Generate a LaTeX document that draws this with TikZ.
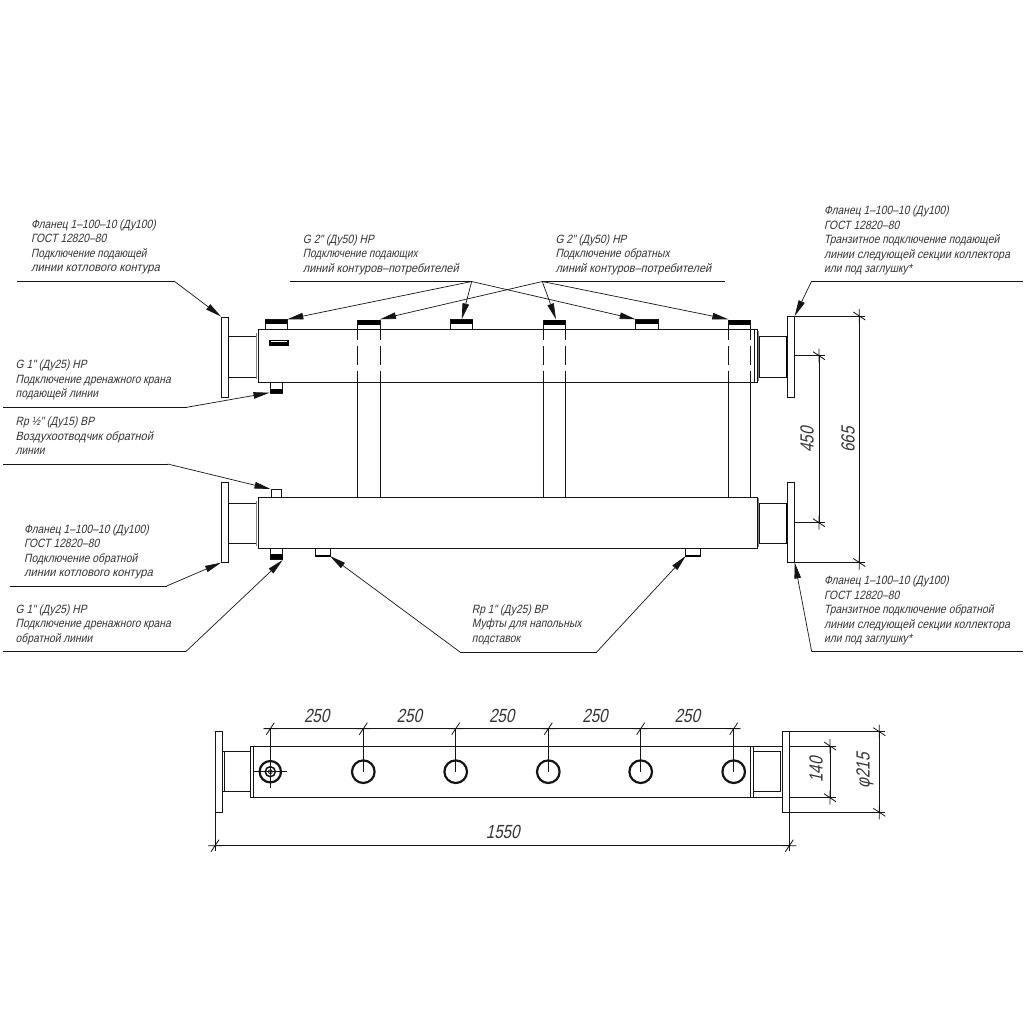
\documentclass[tikz,border=0pt]{standalone}
\usepackage{graphicx}
\usepackage{fontspec}
\usetikzlibrary{arrows.meta}
\newfontfamily\cad[FakeSlant=0.22,FakeStretch=0.86]{Liberation Sans}
\newfontfamily\caddim[FakeSlant=0.22,FakeStretch=0.8]{Liberation Sans}
\definecolor{ink}{gray}{0.08}
\definecolor{txt}{gray}{0.2}
\newcommand{\widen}[2]{\scalebox{#1}[1]{#2}}
\tikzset{
  part/.style={draw=ink,line width=1pt,line join=miter},
  thickpart/.style={draw=black,line width=1.8pt},
  band/.style={draw=gray,line width=1.3pt},
  hidden/.style={draw=ink,line width=1pt,dash pattern=on 19pt off 6pt,dash phase=9pt},
  shelf/.style={draw=ink,line width=0.85pt},
  leader/.style={draw=ink,line width=0.7pt,-{Triangle[length=16pt,width=6.5pt]}},
  dimline/.style={draw=ink,line width=0.8pt},
  note/.style={anchor=north west,inner sep=0pt,align=left,text=txt,
    font=\cad\fontsize{12}{14.5}\selectfont,execute at begin node={\rule{0pt}{10pt}}},
  dimtext/.style={inner sep=0pt,text=txt,font=\caddim\fontsize{19}{20}\selectfont}
}
\newcommand{\tickH}[2]{\draw[dimline] (#1-4,#2+6) -- (#1+4,#2-6) (#1-7,#2) -- (#1+7,#2);}
\newcommand{\tickV}[2]{\draw[dimline] (#1-6,#2-4) -- (#1+6,#2+4) (#1,#2-7) -- (#1,#2+7);}
\begin{document}
\begin{tikzpicture}[x=1pt,y=-1pt]
\useasboundingbox (0,0) rectangle (1024,1024);
%% ---------- upper header
\draw[part] (221,317) rectangle (228.5,397);
\draw[part] (228.5,336) rectangle (256,377);
\draw[thickpart] (228.5,336) -- (228.5,377);
\draw[band] (256.5,333) -- (256.5,379);
\draw[part] (258,329.5) rectangle (757,382.5);
\draw[band] (758.3,331) -- (758.3,381);
\draw[part] (754.5,329.5) -- (754.5,382.5);
\draw[part] (759.5,336) rectangle (787,377);
\draw[thickpart] (787,336) -- (787,377);
\draw[part] (787.3,316) rectangle (794.7,397);
\draw[fill=black,draw=black,line width=0.4pt] (269.5,340) rectangle (288,345.5);
\draw[white,line width=0.4pt] (271,341.3) -- (286.5,341.3);
%% top sockets
\foreach \xa/\xb/\yb in {265/287.3/324,450.7/472.7/324,635.7/658.3/324}{
  \draw[part] (\xa,319.5) rectangle (\xb,329.5);
  \fill[black] (\xa,319.5) rectangle (\xb,\yb);
}
\foreach \xa/\xb in {357.3/380,543.3/565,728.3/750.7}{
  \fill[black] (\xa,319.5) rectangle (\xb,325);
  \draw[part] (\xa,319.5) -- (\xa,329.5) (\xb,319.5) -- (\xb,329.5);
  \draw[hidden] (\xa,329.5) -- (\xa,382.5);
  \draw[hidden] (\xb,329.5) -- (\xb,382.5);
  \draw[part] (\xa,382.5) -- (\xa,497) (\xb,382.5) -- (\xb,497);
}
%% bottom drain of the upper header
\draw[part] (270,382.5) rectangle (282.7,393.3);
\fill[black] (270,388.5) rectangle (282.7,393.3);
%% ---------- lower header
\draw[part] (221,482.7) rectangle (228.5,562.7);
\draw[part] (228.5,503) rectangle (256,543.5);
\draw[thickpart] (228.5,503) -- (228.5,543.5);
\draw[band] (256.5,501) -- (256.5,546);
\draw[part] (258,497) rectangle (757,548.3);
\draw[band] (758.3,498) -- (758.3,547);
\draw[part] (759.5,503) rectangle (787,543.5);
\draw[thickpart] (787,503) -- (787,543.5);
\draw[part] (787.3,482.5) rectangle (794.7,562.5);
\draw[part] (271,489.3) rectangle (281.7,497);
\draw[part] (270,548.3) rectangle (282.7,559.3);
\fill[black] (270,554.3) rectangle (282.7,559.3);
\draw[part] (315.3,548.3) rectangle (330,556);
\draw[part] (685.7,548.3) rectangle (700.7,556);
\draw[black,line width=1.3pt] (315.3,556) -- (330,556) (685.7,556) -- (700.7,556);
%% ---------- notes
\node[note] (n1) at (31,219.3) {Фланец 1–100–10 (Ду100)\\ГОСТ 12820–80\\\widen{.97}{Подключение подающей}\\\widen{1.08}{линии котлового контура}};
\node[note] (n2) at (15.5,360) {G 1" (Ду25) НР\\Подключение дренажного крана\\подающей линии};
\node[note] (n3) at (15.5,417) {Rp ½" (Ду15) ВР\\\widen{1.06}{Воздухоотводчик обратной}\\линии};
\node[note] (n4) at (24,524.3) {Фланец 1–100–10 (Ду100)\\ГОСТ 12820–80\\Подключение обратной\\\widen{1.08}{линии котлового контура}};
\node[note] (n5) at (15.5,604.3) {G 1" (Ду25) НР\\Подключение дренажного крана\\обратной линии};
\node[note] (n6) at (302.7,234.3) {G 2" (Ду50) НР\\\widen{.97}{Подключение подающих}\\\widen{1.06}{линий контуров–потребителей}};
\node[note] (n7) at (555.3,234.3) {G 2" (Ду50) НР\\Подключение обратных\\\widen{1.06}{линий контуров–потребителей}};
\node[note] (n8) at (824,206) {Фланец 1–100–10 (Ду100)\\ГОСТ 12820–80\\Транзитное подключение подающей\\\widen{1.03}{линии следующей секции коллектора}\\или под заглушку*};
\node[note] (n9) at (824,576) {Фланец 1–100–10 (Ду100)\\ГОСТ 12820–80\\Транзитное подключение обратной\\\widen{1.03}{линии следующей секции коллектора}\\или под заглушку*};
\node[note] (n10) at (471.7,604.3) {Rp 1" (Ду25) ВР\\Муфты для напольных\\подставок};
%% ---------- leaders
\coordinate (s1a) at (17,281); \coordinate (s1b) at (174,281); \coordinate (t1) at (221,316.5);
\coordinate (s2a) at (3,407.3); \coordinate (s2b) at (186.7,407.3); \coordinate (t2) at (269.5,392.7);
\coordinate (s3a) at (3,464); \coordinate (s3b) at (167.7,464); \coordinate (t3) at (270.5,489);
\coordinate (s4a) at (10,586); \coordinate (s4b) at (166.7,586); \coordinate (t4) at (221,562.7);
\coordinate (s5a) at (3,651.7); \coordinate (s5b) at (185.7,651.7); \coordinate (t5) at (282.7,560);
\coordinate (s6a) at (290,281.5); \coordinate (s6b) at (471.7,281.5);
\coordinate (s7a) at (725,281.5); \coordinate (s7b) at (542.3,281.5);
\coordinate (t6a) at (287.3,319.3); \coordinate (t6b) at (461.7,319.3); \coordinate (t6c) at (635.7,319.3);
\coordinate (t7a) at (380,319.3); \coordinate (t7b) at (556,319.3); \coordinate (t7c) at (728.3,319.3);
\coordinate (s8a) at (1022.7,281); \coordinate (s8b) at (811.7,281); \coordinate (t8) at (794.7,316);
\coordinate (s9a) at (1022.7,651.7); \coordinate (s9b) at (811.7,651.7); \coordinate (t9) at (794.7,562.5);
\coordinate (s10a) at (460,652); \coordinate (s10b) at (596.7,652); \coordinate (t10a) at (330,556); \coordinate (t10b) at (685.7,556);
\draw[shelf] (s1a) -- (s1b); \draw[leader] (s1b) -- (t1);
\draw[shelf] (s2a) -- (s2b); \draw[leader] (s2b) -- (t2);
\draw[shelf] (s3a) -- (s3b); \draw[leader] (s3b) -- (t3);
\draw[shelf] (s4a) -- (s4b); \draw[leader] (s4b) -- (t4);
\draw[shelf] (s5a) -- (s5b); \draw[leader] (s5b) -- (t5);
\draw[shelf] (s6a) -- (s6b); \draw[shelf] (s7a) -- (s7b);
\draw[leader] (s6b) -- (t6a); \draw[leader] (s6b) -- (t6b); \draw[leader] (s6b) -- (t6c);
\draw[leader] (s7b) -- (t7a); \draw[leader] (s7b) -- (t7b); \draw[leader] (s7b) -- (t7c);
\draw[shelf] (s8a) -- (s8b); \draw[leader] (s8b) -- (t8);
\draw[shelf] (s9a) -- (s9b); \draw[leader] (s9b) -- (t9);
\draw[shelf] (s10a) -- (s10b); \draw[leader] (s10a) -- (t10a); \draw[leader] (s10b) -- (t10b);
%% ---------- dimensions of the front view
\draw[dimline] (794.7,316) -- (865,316) (794.7,562.5) -- (865,562.5) (859.3,316) -- (859.3,562.5);
\tickV{859.3}{316} \tickV{859.3}{562.5}
\draw[dimline] (794.7,355.7) -- (825,355.7) (794.7,522.7) -- (825,522.7) (819,355.7) -- (819,522.7);
\tickV{819}{355.7} \tickV{819}{522.7}
\node[dimtext,rotate=90] (d450) at (807,440) {450};
\node[dimtext,rotate=90] (d665) at (848,440) {665};
%% ---------- plan view
\draw[part] (215.3,731.7) rectangle (222.7,812.3);
\draw[part] (224,751.7) rectangle (250.7,791.7);
\draw[part] (222.7,751.7) -- (224,751.7) (222.7,791.7) -- (224,791.7);
\draw[part] (250.7,746) rectangle (253.3,797.7);
\draw[part] (253.3,746) rectangle (750.7,797.7);
\draw[part] (750.7,746) rectangle (753.3,797.7);
\draw[part] (753.3,751.7) rectangle (780.7,791.7);
\draw[part] (753.3,746) -- (782.3,746) (753.3,797.7) -- (782.3,797.7);
\draw[part] (782.3,731.7) rectangle (789.3,812.3);
\foreach \cx in {363.3,455.7,548.3,640.7,733.7}{
  \draw[draw=ink,line width=2.2pt] (\cx,771.7) circle (11.3);
  \draw[dimline] (\cx,728.7) -- (\cx,771.7);
  \tickH{\cx}{728.7}
}
\draw[draw=ink,line width=2.2pt] (270.3,771.7) circle (10.7);
\draw[draw=ink,line width=1.5pt] (270.3,771.7) circle (5);
\draw[draw=ink,line width=0.8pt] (270.3,771.7) circle (2);
\draw[dimline] (270.3,728.7) -- (270.3,788) (254,771.7) -- (287.3,771.7);
\tickH{270.3}{728.7}
\draw[dimline] (264,728.7) -- (740,728.7);
\node[dimtext] (d1) at (316.7,715.7) {250};
\node[dimtext] (d2) at (409.3,715.7) {250};
\node[dimtext] (d3) at (501.7,715.7) {250};
\node[dimtext] (d4) at (595,715.7) {250};
\node[dimtext] (d5) at (687.3,715.7) {250};
\draw[dimline] (215,743) -- (215,851) (789.3,812.3) -- (789.3,851) (215,845.7) -- (789.3,845.7);
\tickH{215}{845.7} \tickH{789.3}{845.7}
\node[dimtext] (d6) at (502.7,831.7) {1550};
\draw[dimline] (789.3,746) -- (836,746) (789.3,797.7) -- (836,797.7) (830,746) -- (830,797.7);
\tickV{830}{746} \tickV{830}{797.7}
\node[dimtext,rotate=90] (d7) at (816,770) {140};
\draw[dimline] (789.3,731.7) -- (885,731.7) (789.3,812.3) -- (885,812.3) (879.3,731.7) -- (879.3,812.3);
\tickV{879.3}{731.7} \tickV{879.3}{812.3}
\node[dimtext,rotate=90] (d8) at (865,771) {φ215};
\end{tikzpicture}
\end{document}
